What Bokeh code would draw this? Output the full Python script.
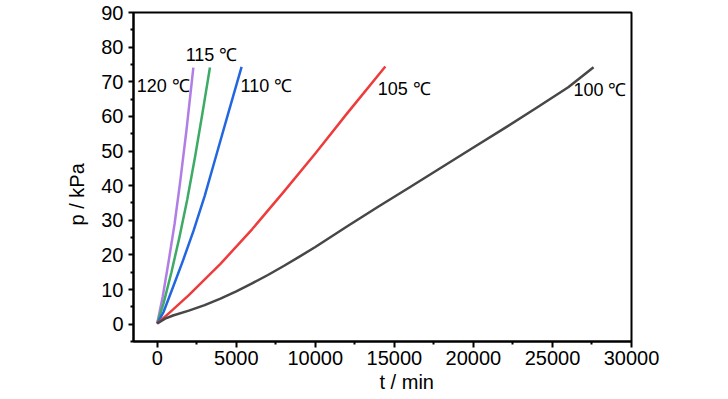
from bokeh.plotting import figure
from bokeh.models import Range1d, ColumnDataSource, FixedTicker, Title
from bokeh.core.properties import value
from bokeh.embed import file_html
from bokeh.resources import INLINE

# ---- data ----
t_120 = [0, 350, 700, 1100, 1450, 1850, 2286]
p_120 = [0.2, 8.0, 17.5, 29.0, 41.0, 56.0, 74.1]

t_115 = [0, 400, 900, 1400, 1900, 2400, 2900, 3335]
p_115 = [0.2, 6.0, 15.0, 25.0, 36.0, 48.5, 62.0, 74.1]

t_110 = [0, 400, 900, 1600, 2300, 3000, 3750, 4500, 5337]
p_110 = [0.2, 3.5, 9.5, 18.0, 27.0, 37.0, 49.0, 61.0, 74.3]

t_105 = [0, 800, 2000, 4000, 6000, 8000, 10000, 12000, 14430]
p_105 = [0.2, 3.4, 8.4, 17.4, 27.4, 38.2, 49.3, 60.8, 74.4]

t_100 = [0, 500, 1000, 2000, 3000, 4000, 5000, 6000, 7000, 8000, 9000, 10000,
         12000, 14000, 16000, 18000, 20000, 22000, 24000, 26000, 27600]
p_100 = [0.2, 1.6, 2.5, 3.9, 5.5, 7.4, 9.5, 11.8, 14.2, 16.8, 19.5, 22.3,
         28.2, 34.0, 39.6, 45.3, 51.0, 56.7, 62.5, 68.4, 74.2]

series_names = ["120 ℃", "115 ℃", "110 ℃", "105 ℃", "100 ℃"]
series_colors = ["#b07ee4", "#3daa66", "#2266e0", "#ee3b3b", "#474747"]

label_t = [-1295, 1800, 5274, 13946, 26325]
label_p = [68.9, 77.6, 68.9, 67.8, 67.7]

x_ticks = [0, 5000, 10000, 15000, 20000, 25000, 30000]
y_ticks = [0, 10, 20, 30, 40, 50, 60, 70, 80, 90]

x_title = "t / min"
y_title = "p / kPa"

FONT = "Liberation Sans"

p = figure(width=728, height=399, output_backend="svg", toolbar_location=None,
           x_range=Range1d(-1500, 30000), y_range=Range1d(-5, 90),
           min_border_left=133, min_border_right=97, min_border_top=12,
           min_border_bottom=58)

p.grid.visible = False
p.outline_line_color = "black"
p.outline_line_width = 2
p.background_fill_color = "white"
p.border_fill_color = "white"

for ax in (p.xaxis[0], p.yaxis[0]):
    ax.axis_line_width = 2
    ax.axis_line_color = "black"
    ax.major_tick_line_width = 2
    ax.minor_tick_line_width = 2
    ax.major_tick_in = 0
    ax.minor_tick_in = 0
    ax.major_label_text_font = FONT
    ax.major_label_text_font_size = "20px"
    ax.major_label_text_color = "black"

p.xaxis.ticker = FixedTicker(ticks=x_ticks, minor_ticks=[x + 2500 for x in [-5000] + x_ticks[:-1]])
p.yaxis.ticker = FixedTicker(ticks=y_ticks, minor_ticks=[y + 5 for y in [-10] + y_ticks[:-1]])
p.xaxis.major_tick_out = 6
p.xaxis.minor_tick_out = 3
p.yaxis.major_tick_out = 5
p.yaxis.minor_tick_out = 3
p.xaxis.major_label_standoff = 3
p.yaxis.major_label_standoff = 5

all_t = [t_120, t_115, t_110, t_105, t_100]
all_p = [p_120, p_115, p_110, p_105, p_100]
for tt, pp, c in zip(all_t, all_p, series_colors):
    p.line(tt, pp, line_color=c, line_width=2.5, line_join="round")

src = ColumnDataSource(dict(x=label_t, y=label_p, text=series_names))
p.text(x="x", y="y", text="text", source=src, text_font=value(FONT),
       text_font_size="18px", text_align="left", text_baseline="middle",
       text_color="black")

# axis titles placed as side-panel titles (not clipped, positionable)
p.add_layout(Title(text=x_title, align="left", offset=246, standoff=2,
                   text_font=FONT, text_font_size="20px", text_font_style="normal",
                   text_color="black"), "below")
p.add_layout(Title(text=y_title, align="left", offset=116, standoff=22,
                   text_font=FONT, text_font_size="20px", text_font_style="normal",
                   text_color="black"), "left")

open("out.html", "w").write(file_html(p, INLINE))
